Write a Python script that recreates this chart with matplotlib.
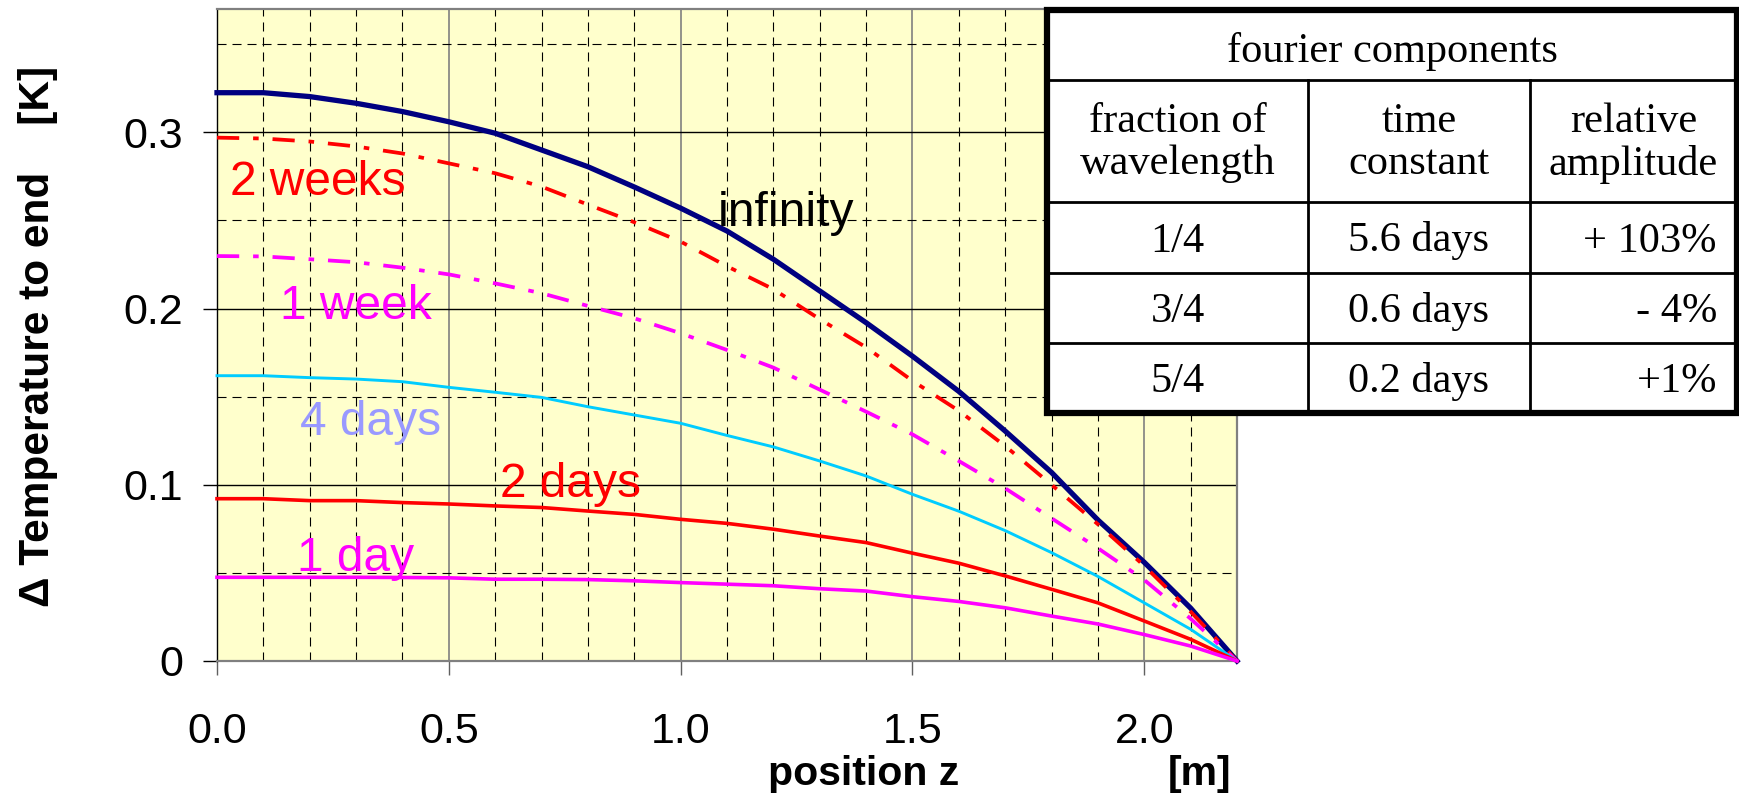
import matplotlib
matplotlib.use("Agg")
import matplotlib.pyplot as plt
from matplotlib.ticker import MultipleLocator, FuncFormatter
from matplotlib.patches import Rectangle

plt.rcParams["font.family"] = ["Liberation Sans", "DejaVu Sans"]
plt.rcParams["lines.scale_dashes"] = False

# ----------------------------
# Data
# ----------------------------
z = [0.0, 0.1, 0.2, 0.3, 0.4, 0.5, 0.6, 0.7, 0.8, 0.9, 1.0,
     1.1, 1.2, 1.3, 1.4, 1.5, 1.6, 1.7, 1.8, 1.9, 2.0, 2.1, 2.2]

dT_infinity = [0.3225, 0.3225, 0.3203, 0.3165, 0.3118, 0.3060, 0.2995, 0.2900,
               0.2805, 0.2690, 0.2570, 0.2440, 0.2280, 0.2100, 0.1920, 0.1730,
               0.1530, 0.1305, 0.1070, 0.0800, 0.0560, 0.0300, 0.0]
dT_2weeks = [0.2970, 0.2965, 0.2948, 0.2920, 0.2880, 0.2824, 0.2768, 0.2692,
             0.2590, 0.2490, 0.2380, 0.2240, 0.2110, 0.1940, 0.1780, 0.1590,
             0.1420, 0.1220, 0.1000, 0.0776, 0.0540, 0.0280, 0.0]
dT_1week = [0.2298, 0.2296, 0.2280, 0.2263, 0.2232, 0.2194, 0.2143, 0.2087,
            0.2015, 0.1945, 0.1860, 0.1765, 0.1665, 0.1540, 0.1415, 0.1286,
            0.1135, 0.0980, 0.0810, 0.0640, 0.0460, 0.0240, 0.0]
dT_4days = [0.1619, 0.1619, 0.1608, 0.1600, 0.1585, 0.1553, 0.1525, 0.1496,
            0.1443, 0.1396, 0.1349, 0.1280, 0.1215, 0.1135, 0.1050, 0.0946,
            0.0850, 0.0740, 0.0615, 0.0480, 0.0330, 0.0180, 0.0]
dT_2days = [0.0921, 0.0921, 0.0910, 0.0910, 0.0899, 0.0891, 0.0880, 0.0871,
            0.0851, 0.0832, 0.0804, 0.0781, 0.0748, 0.0709, 0.0672, 0.0612,
            0.0555, 0.0483, 0.0407, 0.0330, 0.0227, 0.0123, 0.0]
dT_1day = [0.0475, 0.0475, 0.0475, 0.0475, 0.0474, 0.0472, 0.0464, 0.0464,
           0.0462, 0.0455, 0.0445, 0.0436, 0.0427, 0.0410, 0.0397, 0.0365,
           0.0338, 0.0302, 0.0255, 0.0210, 0.0150, 0.0085, 0.0]

curve_names = ["infinity", "2 weeks", "1 week", "4 days", "2 days", "1 day"]

table_title = "fourier components"
table_header = ["fraction of\nwavelength", "time\nconstant", "relative\namplitude"]
table_fraction = ["1/4", "3/4", "5/4"]
table_time = ["5.6 days", "0.6 days", "0.2 days"]
table_amplitude = ["+ 103%", "- 4%", "+1%"]

# ----------------------------
# Styles
# ----------------------------
dashdot = (0, (16, 10, 4, 10))
styles = [
    (dT_infinity, "#000080", 3.8, "-"),
    (dT_2weeks, "#FF0000", 2.7, dashdot),
    (dT_1week, "#FF00FF", 2.7, dashdot),
    (dT_4days, "#00CCFF", 2.1, "-"),
    (dT_2days, "#FF0000", 2.6, "-"),
    (dT_1day, "#FF00FF", 2.6, "-"),
]
label_colors = ["black", "#FF0000", "#FF00FF", "#9999FF", "#FF0000", "#FF00FF"]
label_pos = [(1.079, 0.2469), (0.028, 0.2645), (0.136, 0.194),
             (0.179, 0.1283), (0.610, 0.0931), (0.1725, 0.0511)]

W, H = 1740, 796
fig = plt.figure(figsize=(W / 100, H / 100), dpi=100)
ax = fig.add_axes([217 / W, 1 - 661 / H, 1020 / W, 652 / H])
ax.set_facecolor("#FFFFCC")

for values, color, lw, ls in styles:
    ax.plot(z, values, color=color, lw=lw, ls=ls, clip_on=False, zorder=3)

for name, color, (px, py) in zip(curve_names, label_colors, label_pos):
    ax.text(px, py, name, color=color, fontsize=34.5, ha="left", va="baseline", zorder=4)

ax.set_xlim(0, 2.2)
ax.set_ylim(0, 0.37)
ax.xaxis.set_major_locator(MultipleLocator(0.5))
ax.xaxis.set_minor_locator(MultipleLocator(0.1))
ax.yaxis.set_major_locator(MultipleLocator(0.1))
ax.yaxis.set_minor_locator(MultipleLocator(0.05))
ax.xaxis.set_major_formatter(FuncFormatter(lambda v, p: f"{v:.1f}"))
ax.yaxis.set_major_formatter(FuncFormatter(lambda v, p: "0" if abs(v) < 1e-9 else f"{v:.1f}"))

ax.set_axisbelow(True)
ax.grid(which="major", axis="y", color="black", lw=1.0, ls="-")
ax.grid(which="major", axis="x", color="#808080", lw=1.2, ls="-")
ax.grid(which="minor", color="black", lw=0.8, ls=(0, (6.5, 4.3)))

ax.tick_params(which="minor", length=0)
ax.tick_params(which="major", length=10, width=1.0, labelsize=31, direction="out")
ax.tick_params(axis="x", pad=26.5, color="#606060")
ax.tick_params(axis="y", pad=14.4, color="black")

for side in ["top", "right", "bottom"]:
    ax.spines[side].set_color("#808080")
    ax.spines[side].set_linewidth(1.6)
ax.spines["left"].set_color("black")
ax.spines["left"].set_linewidth(1.0)

# axis titles
fig.text(38 / W, 1 - 336 / H, "\u0394 Temperature to end    [K]", rotation=90,
         fontsize=30.5, fontweight="bold", ha="center", va="center")
fig.text(864 / W, 1 - 785 / H, "position z", fontsize=29.5, fontweight="bold",
         ha="center", va="baseline")
fig.text(1200 / W, 1 - 785 / H, "[m]", fontsize=29.5, fontweight="bold",
         ha="center", va="baseline")

# ----------------------------
# Table overlay
# ----------------------------
tw, th = 690, 403
tab = fig.add_axes([1047 / W, 1 - 413 / H, tw / W, th / H])
tab.set_xlim(0, tw)
tab.set_ylim(th, 0)
tab.axis("off")
tab.add_patch(Rectangle((0, 0), tw, th, facecolor="white", edgecolor="none", zorder=1))

row_lines = [70, 192, 263, 333]
col_lines = [261, 483]
for yy in row_lines:
    tab.plot([0, tw], [yy, yy], color="black", lw=2.0, zorder=2)
for xx in col_lines:
    tab.plot([xx, xx], [70, th], color="black", lw=2.0, zorder=2)
tab.add_patch(Rectangle((0, 0), tw, th, facecolor="none", edgecolor="black",
                        lw=4.5, zorder=3, clip_on=False))

serif = ["Liberation Serif", "DejaVu Serif"]
tsize = 30.5
col_centers = [130.5, 372, 586.5]
tab.text(tw / 2, 52, table_title, family=serif, fontsize=tsize, ha="center", va="baseline")
for cx, head in zip(col_centers, table_header):
    tab.text(cx, 133, head, family=serif, fontsize=tsize, ha="center", va="center",
             linespacing=1.12)
row_base = [241.5, 312, 382]
for yb, frac, tc, amp in zip(row_base, table_fraction, table_time, table_amplitude):
    tab.text(col_centers[0], yb, frac, family=serif, fontsize=tsize, ha="center", va="baseline")
    tab.text(col_centers[1], yb, tc, family=serif, fontsize=tsize, ha="center", va="baseline")
    tab.text(670, yb, amp, family=serif, fontsize=tsize, ha="right", va="baseline")

fig.savefig("out.png", dpi=100)
plt.close(fig)
